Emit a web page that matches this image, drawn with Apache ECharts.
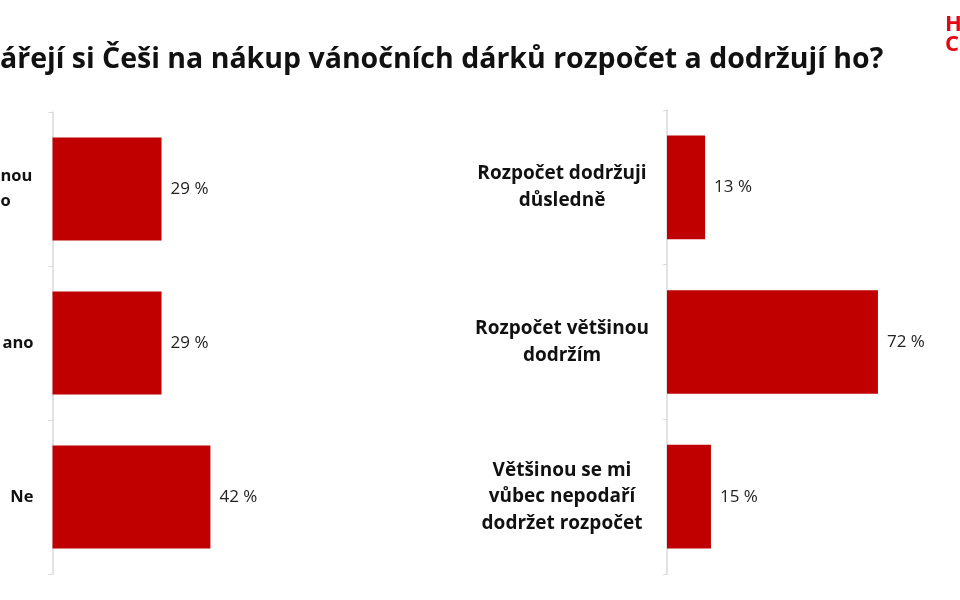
<!DOCTYPE html>
<html><head><meta charset="utf-8">
<script src="https://cdn.jsdelivr.net/npm/echarts@6/dist/echarts.min.js"></script>
<style>html,body{margin:0;padding:0;background:#fff}#c{width:960px;height:600px}</style>
</head><body><div id="c"></div>
<script>
const titleText = 'ářejí si Češi na nákup vánočních dárků rozpočet a dodržují ho?';
const leftCategories = ['{a|nou}\n{a|o}', 'ano', 'Ne'];
const leftValues = [29, 29, 42];
const rightCategories = ['Rozpočet dodržuji\ndůsledně', 'Rozpočet většinou\ndodržím', 'Většinou se mi\nvůbec nepodaří\ndodržet rozpočet'];
const rightValues = [13, 72, 15];

const FONT = 'Open Sans';
const RED = '#c00000';
const chart = echarts.init(document.getElementById('c'), null, {renderer: 'canvas'});

const valueLabel = {
  show: true, position: 'right', distance: 9,
  formatter: p => p.value + ' %',
  fontFamily: FONT, fontSize: 17, fontWeight: 500, color: '#222'
};

chart.setOption({
  animation: false,
  backgroundColor: '#fff',
  title: {
    text: titleText, left: 0, top: 45, padding: 0,
    textStyle: {fontFamily: FONT, fontWeight: 'bold', fontSize: 28.5, color: '#111'}
  },
  graphic: [
    {type: 'text', left: 945, top: 14, style: {text: 'H', fontFamily: FONT, fontWeight: 'bold', fontSize: 22, fill: '#e30613'}},
    {type: 'text', left: 945, top: 34, style: {text: 'C', fontFamily: FONT, fontWeight: 'bold', fontSize: 22, fill: '#e30613'}}
  ],
  grid: [
    {left: 52.5, width: 376, top: 112, bottom: 26, outerBoundsMode: 'none', containLabel: false},
    {left: 667, width: 293, top: 110, bottom: 26, outerBoundsMode: 'none', containLabel: false}
  ],
  xAxis: [
    {gridIndex: 0, type: 'value', min: 0, max: 100, show: false},
    {gridIndex: 1, type: 'value', min: 0, max: 100, show: false}
  ],
  yAxis: [
    {
      gridIndex: 0, type: 'category', data: leftCategories, inverse: true,
      axisLine: {lineStyle: {color: '#d9d9d9', width: 1.5}},
      axisTick: {show: true, length: 4, lineStyle: {color: '#d9d9d9'}},
      axisLabel: {margin: 19, align: 'right', fontFamily: FONT, fontWeight: 'bold', fontSize: 16.5, color: '#111', lineHeight: 25,
        rich: {a: {width: 33, align: 'left', fontFamily: FONT, fontWeight: 'bold', fontSize: 16.5, color: '#111', lineHeight: 25}}}
    },
    {
      gridIndex: 1, type: 'category', data: rightCategories, inverse: true,
      axisLine: {lineStyle: {color: '#d9d9d9', width: 1.5}},
      axisTick: {show: true, length: 4, lineStyle: {color: '#d9d9d9'}},
      axisLabel: {margin: 105, align: 'center', fontFamily: FONT, fontWeight: 'bold', fontSize: 19, color: '#111', lineHeight: 26.5}
    }
  ],
  series: [
    {type: 'bar', xAxisIndex: 0, yAxisIndex: 0, data: leftValues, barWidth: '67%', itemStyle: {color: RED}, label: valueLabel},
    {type: 'bar', xAxisIndex: 1, yAxisIndex: 1, data: rightValues, barWidth: '67%', itemStyle: {color: RED}, label: valueLabel}
  ]
});
</script></body></html>
